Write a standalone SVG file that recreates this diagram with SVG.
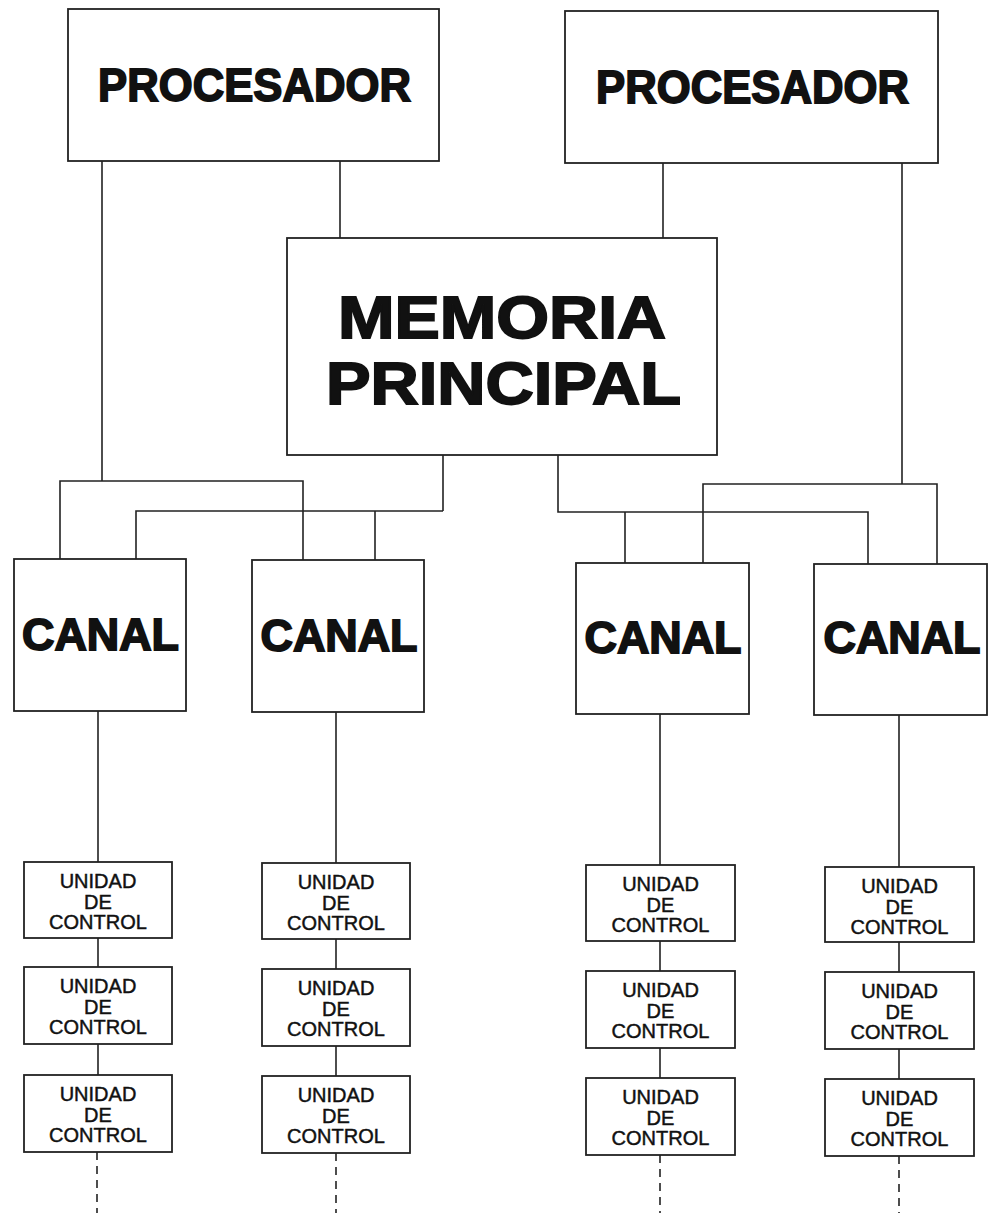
<svg xmlns="http://www.w3.org/2000/svg" width="989" height="1213" viewBox="0 0 989 1213">
<style>
.box{fill:#fff;stroke:#222;stroke-width:1.8}
.ln{fill:none;stroke:#222;stroke-width:1.6}
.dash{fill:none;stroke:#222;stroke-width:1.6;stroke-dasharray:8 6}
.big{font-family:"Liberation Sans",Arial,sans-serif;font-weight:bold;fill:#111;stroke:#111;stroke-width:1.8;text-anchor:middle}
.uc{font-family:"Liberation Sans",Arial,sans-serif;font-size:20px;fill:#111;stroke:#111;stroke-width:0.45;text-anchor:middle}
</style>
<rect width="989" height="1213" fill="#fff"/>
<g id="connectors">
<path class="ln" d="M102 161V481M60 559V481H303V560"/>
<path class="ln" d="M340 161V238M663 163V238"/>
<path class="ln" d="M443 455V511M136 559V511H443M375 511V560"/>
<path class="ln" d="M558 455V512H868V564M625 512V563"/>
<path class="ln" d="M902 163V484M703 563V484H937V564"/>
<path class="ln" d="M98 711V862M98 938V967M98 1044V1075"/>
<path class="ln" d="M336 712V863M336 939V969M336 1046V1076"/>
<path class="ln" d="M660 714V865M660 941V971M660 1048V1078"/>
<path class="ln" d="M899 715V867M899 942V972M899 1049V1079"/>
<path class="dash" d="M97 1152V1213M336 1153V1213M660 1155V1213M899 1156V1213"/>
</g>
<g id="procesador1"><rect class="box" x="68" y="9" width="371" height="152"/><text class="big" x="254.5" y="101" font-size="47" textLength="313" lengthAdjust="spacingAndGlyphs">PROCESADOR</text></g>
<g id="procesador2"><rect class="box" x="565" y="11" width="373" height="152"/><text class="big" x="752.5" y="103" font-size="47" textLength="313" lengthAdjust="spacingAndGlyphs">PROCESADOR</text></g>
<g id="memoria"><rect class="box" x="287" y="238" width="430" height="217"/><text class="big" x="502" y="338" font-size="59" textLength="328" lengthAdjust="spacingAndGlyphs">MEMORIA</text><text class="big" x="503.5" y="404" font-size="59" textLength="355" lengthAdjust="spacingAndGlyphs">PRINCIPAL</text></g>
<g id="canal1"><rect class="box" x="14" y="559" width="172" height="152"/><text class="big" x="100.5" y="650" font-size="45" textLength="157" lengthAdjust="spacingAndGlyphs">CANAL</text></g>
<g id="canal2"><rect class="box" x="252" y="560" width="172" height="152"/><text class="big" x="339" y="651" font-size="45" textLength="157" lengthAdjust="spacingAndGlyphs">CANAL</text></g>
<g id="canal3"><rect class="box" x="576" y="563" width="173" height="151"/><text class="big" x="663" y="653" font-size="45" textLength="157" lengthAdjust="spacingAndGlyphs">CANAL</text></g>
<g id="canal4"><rect class="box" x="814" y="564" width="173" height="151"/><text class="big" x="902" y="653" font-size="45" textLength="157" lengthAdjust="spacingAndGlyphs">CANAL</text></g>
<g id="uc1a"><rect class="box" x="24" y="862" width="148" height="76"/><text class="uc" x="98"><tspan x="98" y="888">UNIDAD</tspan><tspan x="98" y="908.5">DE</tspan><tspan x="98" y="929">CONTROL</tspan></text></g>
<g id="uc1b"><rect class="box" x="24" y="967" width="148" height="77"/><text class="uc" x="98"><tspan x="98" y="993">UNIDAD</tspan><tspan x="98" y="1013.5">DE</tspan><tspan x="98" y="1034">CONTROL</tspan></text></g>
<g id="uc1c"><rect class="box" x="24" y="1075" width="148" height="77"/><text class="uc" x="98"><tspan x="98" y="1101">UNIDAD</tspan><tspan x="98" y="1121.5">DE</tspan><tspan x="98" y="1142">CONTROL</tspan></text></g>
<g id="uc2a"><rect class="box" x="262" y="863" width="148" height="76"/><text class="uc" x="336"><tspan x="336" y="889">UNIDAD</tspan><tspan x="336" y="909.5">DE</tspan><tspan x="336" y="930">CONTROL</tspan></text></g>
<g id="uc2b"><rect class="box" x="262" y="969" width="148" height="77"/><text class="uc" x="336"><tspan x="336" y="995">UNIDAD</tspan><tspan x="336" y="1015.5">DE</tspan><tspan x="336" y="1036">CONTROL</tspan></text></g>
<g id="uc2c"><rect class="box" x="262" y="1076" width="148" height="77"/><text class="uc" x="336"><tspan x="336" y="1102">UNIDAD</tspan><tspan x="336" y="1122.5">DE</tspan><tspan x="336" y="1143">CONTROL</tspan></text></g>
<g id="uc3a"><rect class="box" x="586" y="865" width="149" height="76"/><text class="uc" x="660.5"><tspan x="660.5" y="891">UNIDAD</tspan><tspan x="660.5" y="911.5">DE</tspan><tspan x="660.5" y="932">CONTROL</tspan></text></g>
<g id="uc3b"><rect class="box" x="586" y="971" width="149" height="77"/><text class="uc" x="660.5"><tspan x="660.5" y="997">UNIDAD</tspan><tspan x="660.5" y="1017.5">DE</tspan><tspan x="660.5" y="1038">CONTROL</tspan></text></g>
<g id="uc3c"><rect class="box" x="586" y="1078" width="149" height="77"/><text class="uc" x="660.5"><tspan x="660.5" y="1104">UNIDAD</tspan><tspan x="660.5" y="1124.5">DE</tspan><tspan x="660.5" y="1145">CONTROL</tspan></text></g>
<g id="uc4a"><rect class="box" x="825" y="867" width="149" height="75"/><text class="uc" x="899.5"><tspan x="899.5" y="893">UNIDAD</tspan><tspan x="899.5" y="913.5">DE</tspan><tspan x="899.5" y="934">CONTROL</tspan></text></g>
<g id="uc4b"><rect class="box" x="825" y="972" width="149" height="77"/><text class="uc" x="899.5"><tspan x="899.5" y="998">UNIDAD</tspan><tspan x="899.5" y="1018.5">DE</tspan><tspan x="899.5" y="1039">CONTROL</tspan></text></g>
<g id="uc4c"><rect class="box" x="825" y="1079" width="149" height="77"/><text class="uc" x="899.5"><tspan x="899.5" y="1105">UNIDAD</tspan><tspan x="899.5" y="1125.5">DE</tspan><tspan x="899.5" y="1146">CONTROL</tspan></text></g>
</svg>
